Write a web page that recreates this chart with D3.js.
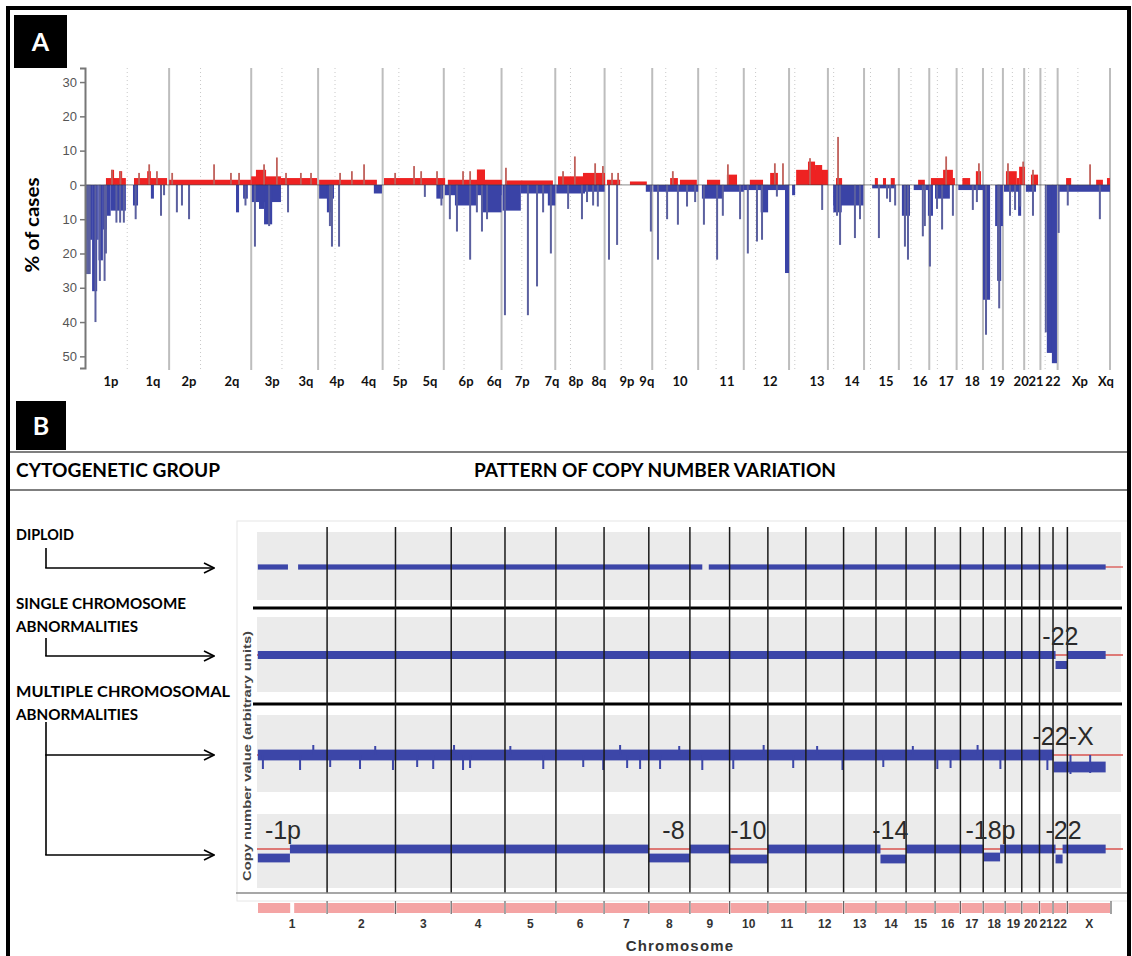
<!DOCTYPE html>
<html>
<head>
<meta charset="utf-8">
<script src="https://cdn.jsdelivr.net/npm/d3@7"></script>
<style>
body { margin: 0; background: #fff; }
svg { display: block; }
</style>
</head>
<body>
<svg id="fig" width="1132" height="956"></svg>
<script>
// chromosome sizes and centromeres, Mb
var chroms = ["1","2","3","4","5","6","7","8","9","10","11","12","13","14","15","16","17","18","19","20","21","22","X"];
var chromLen = [249,243,198,191,181,171,159,146,141,136,135,134,115,107,103,90,81,78,59,63,48,51,155];
var centro = [125,93,91,50,48,60,60,45,49,40,53,35,17,17,19,36,24,17,26,28,13,14,60];

// panel A arm labels and their genome positions (Mb)
var armLabels = ["1p","1q","2p","2q","3p","3q","4p","4q","5p","5q","6p","6q","7p","7q","8p","8q","9p","9q","10","11","12","13","14","15","16","17","18","19","20","21","22","Xp","Xq"];
var armLabelPos = [77,201,308,435,554,654,746,840,932,1021,1128,1211,1294,1382,1453,1521,1604,1663,1761,1900,2028,2167,2270,2371,2472,2549,2626,2700,2771,2815,2865,2945,3022];

var yTicks = [30,20,10,0,-10,-20,-30,-40,-50];

// % of cases with gain: [start Mb, end Mb, %]
var gainBlocks = [[62,121,2],[77,86,4.4],[101,110,4],[145,243,2],[184,195,4],[249,491,1.5],[492,580,2.5],[506,536,4.4],
  [580,687,2],[693,864,1.5],[885,1066,2],[1074,1234,1.5],[1160,1184,4.5],[1243,1385,1.3],[1400,1539,2.5],[1474,1539,3.5],
  [1545,1584,1.5],[1613,1663,1],[1732,1755,2],[1761,1811,1.5],[1841,1880,1.5],[1900,1930,3],[1968,2007,1.5],[2028,2051,3.5],
  [2105,2199,4.4],[2140,2161,6.8],[2161,2182,5.8],[2223,2241,2],[2338,2347,2],[2362,2371,2],[2385,2397,2],[2466,2486,1.5],
  [2504,2575,2],[2540,2569,4.4],[2597,2620,2],[2637,2652,4],[2726,2758,4],[2758,2765,2],[2765,2782,5.3],[2800,2821,3],
  [2904,2919,2],[2993,3013,1.5],[3025,3034,2]];

// % of cases with loss: [start Mb, end Mb, -%]
var lossBlocks = [[0,21,-16],[21,36,-31],[36,40,-16],[40,53,-22],[53,65,-13],[65,76,-9],[76,121,-7.5],
  [142,157,-6],[195,204,-4],[447,456,-8],[468,482,-4],
  [494,580,-5],[515,530,-7],[530,554,-11.5],
  [693,737,-4],[716,731,-8],[855,879,-2.5],[1040,1060,-4],
  [1065,1233,-3],[1095,1160,-6],[1175,1233,-8],
  [1236,1290,-7.5],[1290,1392,-2.5],[1370,1392,-6],
  [1395,1480,-2.5],[1480,1538,-2],[1660,1679,-2],[1682,1815,-2],
  [1826,1888,-4],[1888,1950,-2],[1950,2084,-1.5],[2000,2022,-8],[2072,2084,-25.7],
  [2093,2102,-3],[2215,2304,-6],[2215,2240,-8],[2330,2400,-1],
  [2418,2442,-9],[2453,2496,-1.5],[2495,2510,-9],[2516,2560,-4],[2585,2658,-1.5],
  [2658,2679,-33.5],[2694,2717,-12],[2700,2712,-28],
  [2720,2770,-2],[2762,2771,-9],[2785,2815,-2],
  [2847,2866,-49],[2862,2877,-52],[2880,3034,-2]];

// single-probe peaks: [Mb, %]
var gainSpikes = [[80,4.4],[105,4],[160,3.5],[190,6],[213,4],[258,3.5],[382,6],[432,3.5],[456,3.5],[530,6],[568,8],
  [595,3.5],[639,3.5],[669,3.5],[755,3.5],[790,4],[826,6],[918,3.5],[974,5.5],[995,4],[1042,4],[1119,4],[1140,4],
  [1246,5],[1415,4],[1450,8.3],[1510,6.3],[1533,5.5],[1560,3.5],[1578,3.5],[1740,4],[1903,6],[2042,6.3],[2066,6.3],
  [2146,7.8],[2229,14],[2549,8.3],[2646,6.3],[2732,6.3],[2777,6.8],[2806,4.4],[2975,6]];

var lossSpikes = [[4,-26],[9,-26],[14,-26],[31,-40],[44,-28],[58,-28],[62,-20],[93,-11],[104,-11],[115,-11],
  [150,-10],[225,-9],[234,-3],[272,-8],[287,-6],[308,-10],[475,-6],
  [503,-18],[545,-12],[601,-8],[725,-12],[731,-18],[752,-18],[1006,-3.5],[1055,-6],
  [1080,-10],[1101,-13.6],[1140,-21.8],[1160,-8],[1175,-13.6],[1190,-10],
  [1243,-38],[1311,-38],[1338,-29.6],[1356,-8],[1379,-20],
  [1430,-7],[1471,-10],[1486,-5],[1504,-6],[1518,-6.3],[1551,-21.8],[1575,-17.5],
  [1675,-13.6],[1696,-21.8],[1723,-10],[1755,-11.6],[1782,-6.3],[1806,-5],
  [1832,-11.6],[1871,-21.8],[1888,-9],[1939,-10],[1962,-20],[1989,-16.5],[2004,-16],[2048,-3.4],
  [2182,-7.3],[2226,-9],[2235,-17.5],[2279,-15.5],[2294,-10],
  [2350,-15.5],[2374,-4],[2383,-5],[2398,-6],[2427,-18],[2436,-21.8],[2480,-15],[2486,-12],
  [2501,-23.8],[2522,-7],[2537,-13],[2569,-9],[2628,-7.3],[2640,-5],
  [2667,-43.7],[2703,-27.7],[2706,-36],[2738,-9],[2753,-7.3],[2768,-6.3],[2806,-9],
  [2844,-43],[2882,-14],[2909,-6],[3004,-10]];

// panel B: copy number segments per case [start Mb, end Mb, level]
var groupNames = [["DIPLOID"],["SINGLE CHROMOSOME","ABNORMALITIES"],["MULTIPLE CHROMOSOMAL","ABNORMALITIES"]];
var row1Segs = [[3,110,0],[146,1582,0],[1605,3015,0]];
var row2Segs = [[3,2837,0],[2837,2879,-0.5],[2879,3015,0]];
var row3Segs = [[3,2830,0],[2830,3015,-0.6]];
var row4Segs = [[3,117,-0.45],[117,1392,0],[1392,1538,-0.45],[1538,1679,0],[1679,1815,-0.5],[1815,2215,0],
  [2215,2306,-0.5],[2306,2582,0],[2582,2640,-0.4],[2640,2837,0],[2837,2862,-0.5],[2862,3015,0]];
var rowSpread = [0.13, 0.2, 0.27, 0.22];
// outlying probes in the noisy multi-abnormal case [Mb, level]
var row3Dips = [[21,-0.7],[153,-0.75],[200,0.5],[260,-0.6],[366,-0.7],[420,0.45],[483,-0.75],[569,-0.6],[626,-0.7],
  [700,0.5],[732,-0.75],[757,-0.65],[900,0.45],[1017,-0.7],[1159,-0.6],[1230,-0.75],[1290,0.5],[1315,-0.65],[1361,-0.7],
  [1432,-0.7],[1500,0.45],[1582,-0.75],[1692,-0.7],[1800,0.5],[1905,-0.65],[1990,0.45],[2080,-0.75],[2225,-0.6],
  [2330,0.45],[2417,-0.7],[2464,-0.65],[2560,0.5],[2641,-0.7],[2808,-0.75],[2890,-0.95],[2960,-0.9]];
var refStart = [2990, 0, 0, 0];
var cnvLabels = [[1,"-22",2790],[2,"-22-X",2755],[3,"-1p",28],[3,"-8",1440],[3,"-10",1681],[3,"-14",2186],[3,"-18p",2517],[3,"-22",2801]];

var chromStart = [];
var acc = 0;
chromLen.forEach(function(l) { chromStart.push(acc); acc += l; });
var genomeLen = acc;

var svg = d3.select("#fig");
svg.append("rect").attr("width", 1132).attr("height", 956).attr("fill", "#fff");

var defs = svg.append("defs");
defs.append("marker")
    .attr("id", "arrowhead")
    .attr("viewBox", "0 -6 12 12")
    .attr("refX", 11).attr("refY", 0)
    .attr("markerUnits", "userSpaceOnUse")
    .attr("markerWidth", 12).attr("markerHeight", 12)
    .attr("orient", "auto")
    .append("path")
    .attr("d", "M1,-5 L11,0 L1,5")
    .attr("fill", "none").attr("stroke", "#000").attr("stroke-width", 1.6);

var bold = "Lato, 'Open Sans', sans-serif";

// ---------- panel A ----------
var xA = d3.scaleLinear().domain([0, genomeLen]).range([85, 1110]);
var yA = d3.scaleLinear().domain([-53.4, 34.1]).range([368, 68]);
var gA = svg.append("g");

gA.selectAll(".cen").data(centro).enter().append("line")
    .attr("x1", function(d, i) { return xA(chromStart[i] + d); })
    .attr("x2", function(d, i) { return xA(chromStart[i] + d); })
    .attr("y1", 68).attr("y2", 370)
    .attr("stroke", "#c8c8c8").attr("stroke-width", 1).attr("stroke-dasharray", "1,3");

gA.selectAll(".chrline").data(chromStart.slice(1).concat([genomeLen])).enter().append("line")
    .attr("x1", function(d) { return xA(d); }).attr("x2", function(d) { return xA(d); })
    .attr("y1", 68).attr("y2", 370)
    .attr("stroke", "#bdbdbd").attr("stroke-width", 2);

gA.selectAll(".gain").data(gainBlocks).enter().append("rect")
    .attr("x", function(d) { return xA(d[0]); })
    .attr("width", function(d) { return Math.max(1, xA(d[1]) - xA(d[0])); })
    .attr("y", function(d) { return yA(d[2]); })
    .attr("height", function(d) { return yA(0) - yA(d[2]); })
    .attr("fill", "#ee2222");

gA.selectAll(".loss").data(lossBlocks).enter().append("rect")
    .attr("x", function(d) { return xA(d[0]); })
    .attr("width", function(d) { return Math.max(1, xA(d[1]) - xA(d[0])); })
    .attr("y", yA(0))
    .attr("height", function(d) { return yA(d[2]) - yA(0); })
    .attr("fill", "#3a43a6");

gA.selectAll(".gspike").data(gainSpikes).enter().append("rect")
    .attr("x", function(d) { return xA(d[0]) - 0.9; })
    .attr("width", 1.8)
    .attr("y", function(d) { return yA(d[1]); })
    .attr("height", function(d) { return yA(0) - yA(d[1]); })
    .attr("fill", "#c0605a");

gA.selectAll(".lspike").data(lossSpikes).enter().append("rect")
    .attr("x", function(d) { return xA(d[0]) - 1; })
    .attr("width", 2)
    .attr("y", yA(0))
    .attr("height", function(d) { return yA(d[1]) - yA(0); })
    .attr("fill", "#5b609f");

gA.append("line")
    .attr("x1", xA(0)).attr("x2", xA(genomeLen))
    .attr("y1", yA(0)).attr("y2", yA(0))
    .attr("stroke", "#333").attr("stroke-width", 0.8).attr("opacity", 0.7);

var yAxisA = gA.append("g")
    .attr("transform", "translate(85,0)")
    .call(d3.axisLeft(yA).tickValues(yTicks).tickSize(5).tickFormat(function(d) { return Math.abs(d); }));
yAxisA.select(".domain").attr("stroke", "#777").attr("stroke-width", 2);
yAxisA.selectAll(".tick line").attr("stroke", "#777").attr("stroke-width", 1.5);
yAxisA.selectAll(".tick text")
    .attr("fill", "#555").attr("font-size", 13)
    .attr("font-family", "'Liberation Sans', Arial, sans-serif");

gA.selectAll(".armlab").data(armLabels).enter().append("text")
    .attr("x", function(d, i) { return xA(armLabelPos[i]); })
    .attr("y", 386)
    .attr("text-anchor", "middle")
    .attr("font-family", bold).attr("font-weight", 700).attr("font-size", 13)
    .attr("fill", "#111")
    .text(function(d) { return d; });

gA.append("text")
    .attr("transform", "translate(39,225) rotate(-90)")
    .attr("text-anchor", "middle")
    .attr("font-family", bold).attr("font-weight", 700).attr("font-size", 18)
    .attr("textLength", 95).attr("lengthAdjust", "spacingAndGlyphs")
    .text("% of cases");

// panel letters
[["A", 14, 15, 53, 53], ["B", 16, 401, 50, 49]].forEach(function(p) {
  svg.append("rect").attr("x", p[1]).attr("y", p[2]).attr("width", p[3]).attr("height", p[4]).attr("fill", "#000");
  svg.append("text")
      .attr("x", p[1] + p[3] / 2).attr("y", p[2] + p[4] / 2 + 9)
      .attr("text-anchor", "middle")
      .attr("font-family", bold).attr("font-weight", 700).attr("font-size", 25)
      .attr("fill", "#fff").text(p[0]);
});

// ---------- panel B headers ----------
[452, 490].forEach(function(y) {
  svg.append("line").attr("x1", 9).attr("x2", 1130).attr("y1", y).attr("y2", y)
      .attr("stroke", "#555").attr("stroke-width", 1.5);
});
svg.append("text").attr("x", 16).attr("y", 477)
    .attr("font-family", bold).attr("font-weight", 700).attr("font-size", 19)
    .attr("textLength", 204).attr("lengthAdjust", "spacingAndGlyphs")
    .text("CYTOGENETIC GROUP");
svg.append("text").attr("x", 474).attr("y", 477)
    .attr("font-family", bold).attr("font-weight", 700).attr("font-size", 19)
    .attr("textLength", 362).attr("lengthAdjust", "spacingAndGlyphs")
    .text("PATTERN OF COPY NUMBER VARIATION");

var groupY = [540, 609, 697];
var groupW = [[58], [170, 122], [214, 122]];
groupNames.forEach(function(lines, gi) {
  lines.forEach(function(t, li) {
    svg.append("text").attr("x", 16).attr("y", groupY[gi] + li * 23)
        .attr("font-family", bold).attr("font-weight", 700).attr("font-size", 16)
        .attr("textLength", groupW[gi][li]).attr("lengthAdjust", "spacingAndGlyphs")
        .text(t);
  });
});

// arrows from group names to the traces
var arrows = [
  {x: 46, y0: 548, y1: 568, ends: [568]},
  {x: 46, y0: 638, y1: 656, ends: [656]},
  {x: 46, y0: 722, y1: 855, ends: [755, 855]}
];
arrows.forEach(function(a) {
  svg.append("line").attr("x1", a.x).attr("x2", a.x).attr("y1", a.y0).attr("y2", a.y1)
      .attr("stroke", "#000").attr("stroke-width", 1.6);
  a.ends.forEach(function(y) {
    svg.append("line").attr("x1", a.x - 0.8).attr("x2", 214).attr("y1", y).attr("y2", y)
        .attr("stroke", "#000").attr("stroke-width", 1.6)
        .attr("marker-end", "url(#arrowhead)");
  });
});

// ---------- panel B plot ----------
var xB = d3.scaleLinear().domain([0, genomeLen]).range([257, 1111]);
var rowCenter = [567, 655, 755, 849];
var bandTop = [532, 617, 715, 814];
var bandBottom = [600, 692, 792, 888];
var rows = [row1Segs, row2Segs, row3Segs, row4Segs];
var gB = svg.append("g");

gB.append("rect").attr("x", 237).attr("y", 521).attr("width", 891).attr("height", 380)
    .attr("fill", "none").attr("stroke", "#e6e6e6").attr("stroke-width", 1);

bandTop.forEach(function(t, i) {
  gB.append("rect").attr("x", 257).attr("y", t).attr("width", 864).attr("height", bandBottom[i] - t)
      .attr("fill", "#ebebeb");
});

rows.forEach(function(segs, i) {
  var y = d3.scaleLinear().domain([-1, 1]).range([rowCenter[i] + 20, rowCenter[i] - 20]);
  var g = gB.append("g");
  g.append("line")
      .attr("x1", xB(refStart[i])).attr("x2", 1123)
      .attr("y1", y(0)).attr("y2", y(0))
      .attr("stroke", "#d9534f").attr("stroke-width", 1.3);
  g.selectAll("rect.seg").data(segs).enter().append("rect")
      .attr("x", function(d) { return xB(d[0]); })
      .attr("width", function(d) { return xB(d[1]) - xB(d[0]); })
      .attr("y", function(d) { return y(d[2] + rowSpread[i]); })
      .attr("height", function(d) { return y(d[2] - rowSpread[i]) - y(d[2] + rowSpread[i]); })
      .attr("fill", "#3c46a8");
  if (i === 2) {
    g.selectAll("rect.dip").data(row3Dips).enter().append("rect")
        .attr("x", function(d) { return xB(d[0]) - 1; })
        .attr("width", 2)
        .attr("y", function(d) { return Math.min(y(0), y(d[1])); })
        .attr("height", function(d) { return Math.abs(y(d[1]) - y(0)); })
        .attr("fill", "#3c46a8");
  }
});

// separators between groups
[608, 704].forEach(function(y) {
  gB.append("line").attr("x1", 253).attr("x2", 1122).attr("y1", y).attr("y2", y)
      .attr("stroke", "#000").attr("stroke-width", 3);
});

// chromosome boundaries
gB.selectAll(".bline").data(chromStart.slice(1)).enter().append("line")
    .attr("x1", function(d) { return xB(d); }).attr("x2", function(d) { return xB(d); })
    .attr("y1", 527).attr("y2", 893)
    .attr("stroke", "#1a1a1a").attr("stroke-width", 1.5);

gB.append("line").attr("x1", 236).attr("x2", 1130).attr("y1", 893).attr("y2", 893)
    .attr("stroke", "#8a8a8a").attr("stroke-width", 1.5);

cnvLabels.forEach(function(l) {
  gB.append("text")
      .attr("x", xB(l[2])).attr("y", rowCenter[l[0]] - 10)
      .attr("font-family", "'Liberation Sans', Arial, sans-serif")
      .attr("font-size", 25).attr("fill", "#2a2a2a")
      .text(l[1]);
});

// ideogram bar
gB.selectAll(".ideo").data(chromLen).enter().append("rect")
    .attr("x", function(d, i) { return xB(chromStart[i]) + 1; })
    .attr("width", function(d, i) { return xB(chromStart[i] + d) - xB(chromStart[i]) - 2; })
    .attr("y", 903).attr("height", 10)
    .attr("fill", "#f4a4a4");
gB.selectAll(".ideotick").data(chromStart.slice(1).concat([genomeLen])).enter().append("line")
    .attr("x1", function(d) { return xB(d); }).attr("x2", function(d) { return xB(d); })
    .attr("y1", 901).attr("y2", 914)
    .attr("stroke", "#666").attr("stroke-width", 1.2);
gB.append("rect").attr("x", xB(centro[0]) - 2).attr("y", 902).attr("width", 4).attr("height", 12).attr("fill", "#fff");

gB.selectAll(".chrnum").data(chroms).enter().append("text")
    .attr("x", function(d, i) { return xB(chromStart[i] + chromLen[i] / 2); })
    .attr("y", 928)
    .attr("text-anchor", "middle")
    .attr("font-family", "'Liberation Sans', Arial, sans-serif").attr("font-weight", 700)
    .attr("font-size", 12).attr("fill", "#333")
    .text(function(d) { return d; });

gB.append("text").attr("x", 680).attr("y", 951).attr("text-anchor", "middle")
    .attr("font-family", "'Liberation Sans', Arial, sans-serif").attr("font-weight", 700)
    .attr("font-size", 15).attr("fill", "#333")
    .attr("letter-spacing", 1.2)
    .text("Chromosome");

gB.append("text")
    .attr("transform", "translate(251,756) rotate(-90)")
    .attr("text-anchor", "middle")
    .attr("font-family", "'Liberation Sans', Arial, sans-serif").attr("font-weight", 700)
    .attr("font-size", 11).attr("fill", "#444")
    .attr("textLength", 250).attr("lengthAdjust", "spacingAndGlyphs")
    .text("Copy number value (arbitrary units)");

// outer frame
svg.append("rect").attr("x", 8).attr("y", 8).attr("width", 1121).attr("height", 1000)
    .attr("fill", "none").attr("stroke", "#000").attr("stroke-width", 4);
</script>
</body>
</html>
